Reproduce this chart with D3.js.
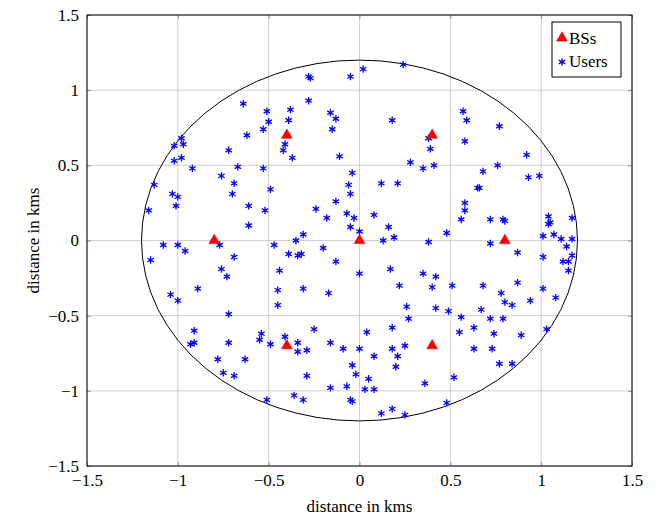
<!DOCTYPE html>
<html>
<head>
<meta charset="utf-8">
<script src="https://cdn.jsdelivr.net/npm/d3@7"></script>
<style>
  body { margin: 0; background: #fff; }
  text { font-family: "Liberation Serif", "DejaVu Serif", serif; }
</style>
</head>
<body>
<div id="scatter"></div>
<script>
// base station positions (kms)
const bsX = [0, 0.8, -0.8, 0.4, -0.4, 0.4, -0.4];
const bsY = [0, 0, 0, 0.7, 0.7, -0.7, -0.7];

// user positions (kms)
const userX = [
  -0.28, -0.27, -0.05, 0.02, 0.24, -0.28, -0.51, -0.38, -0.50, -0.39,
  -0.53, -0.41, -0.42, -0.37, -0.16, -0.13, -0.15, -0.11, 0.18, 0.38,
  0.39, 0.28, 0.35, 0.41, -0.04, -0.64, -0.62, -0.72, -0.98, -1.02,
  -0.97, -1.02, -0.98, -0.92, -0.67, -0.53, 0.57, 0.59, 0.77, 0.58,
  0.92, 0.76, 0.68, -0.76, -0.69, -0.49, -1.13, -1.03, -1.00, -0.70,
  -1.01, -1.16, -0.61, -0.52, -0.61, -0.77, -1.08, -1.00, -0.96, -1.15,
  -0.69, -0.76, -0.73, -0.89, -1.04, -1.00, -0.72, -0.06, -0.05, 0.12,
  0.21, -0.13, -0.24, -0.07, -0.03, -0.18, 0.08, -0.05, 0.00, 0.16,
  0.19, 0.13, 0.48, 0.38, -0.31, -0.35, -0.47, -0.20, -0.39, -0.34,
  -0.32, -0.13, -0.44, 0.00, 0.17, 0.35, 0.42, 0.22, 0.40, 0.51,
  -0.45, -0.31, -0.17, -0.45, 0.26, 0.42, 0.49, 0.27, 0.93, 0.99,
  0.65, 0.66, 0.58, 0.58, 0.56, 0.72, 0.79, 0.80, 1.04, 1.05,
  1.04, 1.17, 1.01, 1.07, 1.11, 1.17, 0.72, 0.87, 1.14, 1.01,
  1.17, 1.12, 1.15, 1.15, 0.68, 0.87, 1.01, 0.78, 0.80, 0.84,
  0.94, 1.08, 0.67, 0.56, 0.72, 0.79, -0.91, -0.93, -0.91, -0.72,
  -0.54, -0.55, -0.49, -0.78, -0.63, -0.75, -0.69, -0.51, -0.25, -0.41,
  -0.34, -0.34, -0.29, -0.16, -0.09, 0.00, 0.04, 0.18, 0.18, 0.25,
  0.21, 0.20, 0.08, -0.04, -0.02, 0.05, -0.29, -0.07, -0.16, 0.03,
  0.08, 0.36, 0.52, -0.36, -0.31, -0.05, -0.04, 0.12, 0.18, 0.25,
  0.48, 0.55, 0.63, 0.74, 0.89, 1.03, 0.63, 0.73, 0.77, 0.84
];
const userY = [
  1.09, 1.08, 1.09, 1.14, 1.17, 0.93, 0.86, 0.87, 0.79, 0.80,
  0.74, 0.64, 0.60, 0.55, 0.85, 0.81, 0.74, 0.56, 0.80, 0.68,
  0.61, 0.52, 0.48, 0.50, 0.45, 0.91, 0.70, 0.60, 0.68, 0.63,
  0.64, 0.53, 0.55, 0.48, 0.49, 0.48, 0.86, 0.80, 0.76, 0.66,
  0.57, 0.50, 0.46, 0.43, 0.38, 0.34, 0.37, 0.31, 0.29, 0.31,
  0.23, 0.20, 0.23, 0.20, 0.10, -0.03, -0.03, -0.03, -0.07, -0.13,
  -0.11, -0.19, -0.24, -0.32, -0.36, -0.40, -0.49, 0.37, 0.31, 0.38,
  0.38, 0.26, 0.21, 0.18, 0.15, 0.15, 0.17, 0.09, 0.06, 0.09,
  0.02, 0.00, 0.05, -0.01, 0.04, 0.00, -0.03, -0.05, -0.09, -0.10,
  -0.09, -0.14, -0.20, -0.22, -0.19, -0.22, -0.24, -0.30, -0.31, -0.30,
  -0.33, -0.32, -0.35, -0.43, -0.44, -0.45, -0.47, -0.52, 0.42, 0.43,
  0.35, 0.35, 0.25, 0.20, 0.14, 0.14, 0.14, 0.13, 0.16, 0.12,
  0.11, 0.15, 0.03, 0.04, 0.01, 0.01, -0.02, -0.08, -0.04, -0.11,
  -0.10, -0.14, -0.14, -0.20, -0.30, -0.28, -0.32, -0.35, -0.41, -0.43,
  -0.40, -0.38, -0.46, -0.51, -0.52, -0.52, -0.60, -0.69, -0.68, -0.68,
  -0.62, -0.66, -0.69, -0.79, -0.79, -0.88, -0.90, -1.06, -0.59, -0.64,
  -0.68, -0.74, -0.73, -0.68, -0.72, -0.72, -0.61, -0.58, -0.72, -0.70,
  -0.77, -0.84, -0.77, -0.83, -0.89, -0.92, -0.90, -0.97, -0.98, -0.99,
  -0.99, -0.95, -0.91, -1.03, -1.06, -1.06, -1.07, -1.15, -1.12, -1.16,
  -1.08, -0.61, -0.58, -0.62, -0.63, -0.59, -0.72, -0.72, -0.82, -0.82
];

const tickValues = [-1.5, -1, -0.5, 0, 0.5, 1, 1.5];
const cellRadius = 1.2;

// set up SVG size
const svgWidth = 662;
const svgHeight = 518;

const margin = { top: 15, right: 30, bottom: 52, left: 87 };

const width = svgWidth - margin.left - margin.right;
const height = svgHeight - margin.top - margin.bottom;

const svg = d3.select("#scatter")
    .append("svg")
    .attr("width", svgWidth)
    .attr("height", svgHeight);

const chartGroup = svg.append("g")
    .attr("transform", `translate(${margin.left}, ${margin.top})`);

// scales
const xScale = d3.scaleLinear().domain([-1.5, 1.5]).range([0, width]);
const yScale = d3.scaleLinear().domain([-1.5, 1.5]).range([height, 0]);

const fmt = d => d3.format("")(d).replace("-", "\u2212");

// grid lines
chartGroup.append("g")
    .selectAll("line")
    .data(tickValues)
    .join("line")
    .attr("x1", d => xScale(d)).attr("x2", d => xScale(d))
    .attr("y1", 0).attr("y2", height)
    .attr("stroke", "#c4c4c4").attr("stroke-width", 0.8);
chartGroup.append("g")
    .selectAll("line")
    .data(tickValues)
    .join("line")
    .attr("y1", d => yScale(d)).attr("y2", d => yScale(d))
    .attr("x1", 0).attr("x2", width)
    .attr("stroke", "#c4c4c4").attr("stroke-width", 0.8);

// axes with inward ticks on all four sides
const tickLen = 4;
const bottomAxis = d3.axisBottom(xScale).tickValues(tickValues).tickSize(-tickLen).tickPadding(8).tickFormat(fmt);
const leftAxis = d3.axisLeft(yScale).tickValues(tickValues).tickSize(-tickLen).tickPadding(8).tickFormat(fmt);
const topAxis = d3.axisTop(xScale).tickValues(tickValues).tickSize(-tickLen).tickFormat("");
const rightAxis = d3.axisRight(yScale).tickValues(tickValues).tickSize(-tickLen).tickFormat("");

const axes = [
    [bottomAxis, `translate(0, ${height})`],
    [leftAxis, "translate(0, 0)"],
    [topAxis, "translate(0, 0)"],
    [rightAxis, `translate(${width}, 0)`]
];
axes.forEach(([ax, tr]) => {
    const g = chartGroup.append("g").attr("transform", tr).call(ax);
    g.select(".domain").remove();
    g.selectAll(".tick line").attr("stroke", "#7a7a7a").attr("stroke-width", 0.8);
    g.selectAll(".tick text")
        .attr("fill", "#000")
        .style("font-size", "17px")
        .style("font-family", "'Liberation Serif', serif");
});

// frame
chartGroup.append("rect")
    .attr("width", width).attr("height", height)
    .attr("fill", "none").attr("stroke", "#000").attr("stroke-width", 1);

// coverage circle
chartGroup.append("ellipse")
    .attr("cx", xScale(0)).attr("cy", yScale(0))
    .attr("rx", xScale(cellRadius) - xScale(0))
    .attr("ry", yScale(0) - yScale(cellRadius))
    .attr("fill", "none").attr("stroke", "#000").attr("stroke-width", 1);

// users
const star = d3.symbol().type(d3.symbolAsterisk).size(38);
chartGroup.append("g")
    .selectAll("path")
    .data(userX.map((x, i) => ({ x: x, y: userY[i] })))
    .join("path")
    .attr("transform", d => `translate(${xScale(d.x)}, ${yScale(d.y)})`)
    .attr("d", star)
    .attr("fill", "none").attr("stroke", "#0000ff").attr("stroke-width", 1.3);

// base stations
const tri = d3.symbol().type(d3.symbolTriangle).size(50);
chartGroup.append("g")
    .selectAll("path")
    .data(bsX.map((x, i) => ({ x: x, y: bsY[i] })))
    .join("path")
    .attr("transform", d => `translate(${xScale(d.x)}, ${yScale(d.y)})`)
    .attr("d", tri)
    .attr("fill", "#ff0000").attr("stroke", "#ff0000").attr("stroke-width", 0.6);

// axis labels
svg.append("text")
    .attr("x", margin.left + width / 2)
    .attr("y", 512)
    .attr("text-anchor", "middle")
    .style("font-size", "17px")
    .text("distance in kms");

svg.append("text")
    .attr("transform", "rotate(-90)")
    .attr("x", -(margin.top + height / 2))
    .attr("y", 39)
    .attr("text-anchor", "middle")
    .style("font-size", "17px")
    .text("distance in kms");

// legend
const legend = svg.append("g").attr("transform", "translate(552, 22)");
legend.append("rect")
    .attr("width", 69).attr("height", 55)
    .attr("fill", "#fff").attr("stroke", "#000").attr("stroke-width", 1);
legend.append("path")
    .attr("transform", "translate(10, 16)")
    .attr("d", tri)
    .attr("fill", "#ff0000").attr("stroke", "#ff0000").attr("stroke-width", 0.6);
legend.append("text")
    .attr("x", 17).attr("y", 22)
    .style("font-size", "17px")
    .text("BSs");
legend.append("path")
    .attr("transform", "translate(10, 40)")
    .attr("d", star)
    .attr("fill", "none").attr("stroke", "#0000ff").attr("stroke-width", 1.3);
legend.append("text")
    .attr("x", 17).attr("y", 45)
    .style("font-size", "17px")
    .text("Users");
</script>
</body>
</html>
